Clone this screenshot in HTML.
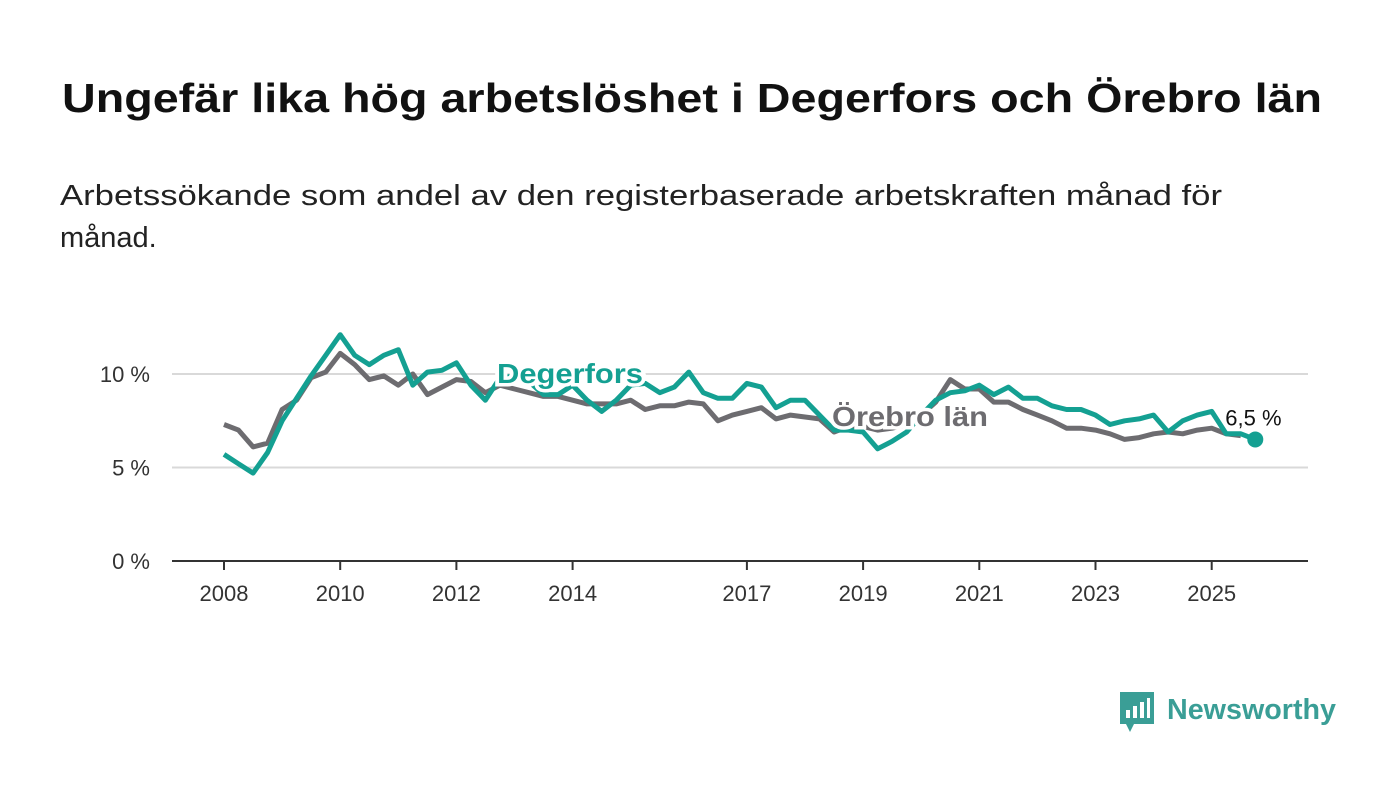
<!DOCTYPE html>
<html><head><meta charset="utf-8">
<style>
html,body{margin:0;padding:0;background:#fff;}
svg{display:block;font-family:"Liberation Sans",sans-serif;}
</style></head>
<body>
<svg width="1400" height="794" viewBox="0 0 1400 794">
<text x="62" y="112" font-size="41" font-weight="bold" fill="#111" textLength="1260" lengthAdjust="spacingAndGlyphs">Ungefär lika hög arbetslöshet i Degerfors och Örebro län</text>
<text x="60" y="205" font-size="29" fill="#222" textLength="1162" lengthAdjust="spacingAndGlyphs">Arbetssökande som andel av den registerbaserade arbetskraften månad för</text>
<text x="60" y="247" font-size="29" fill="#222">månad.</text>
<g id="plot"></g>
<g>
<path d="M1120 692 h34 v32 h-20 l-4 8 l-4 -8 h-6 z" fill="#3a9e96"/>
<rect x="1126" y="710" width="4" height="8" fill="#fff"/><rect x="1133" y="706" width="4" height="12" fill="#fff"/><rect x="1140" y="702" width="4" height="16" fill="#fff"/><rect x="1147" y="698" width="3" height="20" fill="#fff"/>
<text x="1167" y="719" font-size="29" font-weight="bold" fill="#3a9e96" textLength="169" lengthAdjust="spacingAndGlyphs">Newsworthy</text>
</g>
</svg>
<script>
const yTicks=[0,5,10];
const yTickLabels=["0 %","5 %","10 %"];
const xTicks=[2008,2010,2012,2014,2017,2019,2021,2023,2025];
const startYear=2008;
const step=0.25;
const degerfors=[5.7,5.2,4.7,5.8,7.5,8.7,9.9,11.0,12.1,11.0,10.5,11.0,11.3,9.4,10.1,10.2,10.6,9.4,8.6,9.8,9.9,9.6,8.9,8.9,9.4,8.6,8.0,8.6,9.4,9.5,9.0,9.3,10.1,9.0,8.7,8.7,9.5,9.3,8.2,8.6,8.6,7.8,7.0,7.0,6.9,6.0,6.4,6.9,7.8,8.6,9.0,9.1,9.4,8.9,9.3,8.7,8.7,8.3,8.1,8.1,7.8,7.3,7.5,7.6,7.8,6.9,7.5,7.8,8.0,6.8,6.8,6.5];
const orebro=[7.3,7.0,6.1,6.3,8.1,8.6,9.8,10.1,11.1,10.5,9.7,9.9,9.4,10.0,8.9,9.3,9.7,9.6,9.0,9.4,9.2,9.0,8.8,8.8,8.6,8.4,8.4,8.4,8.6,8.1,8.3,8.3,8.5,8.4,7.5,7.8,8.0,8.2,7.6,7.8,7.7,7.6,6.9,7.2,7.2,7.0,7.1,7.3,7.8,8.5,9.7,9.2,9.2,8.5,8.5,8.1,7.8,7.5,7.1,7.1,7.0,6.8,6.5,6.6,6.8,6.9,6.8,7.0,7.1,6.8,6.7];
const NS="http://www.w3.org/2000/svg";
const x=yr=>224+(yr-2008)*58.1;
const y=v=>561-v*18.7;
const g=document.getElementById('plot');
function mk(t,a){const e=document.createElementNS(NS,t);for(const k in a)e.setAttribute(k,a[k]);g.appendChild(e);return e;}
yTicks.forEach((v,i)=>{
 if(v>0){const l=mk('line',{x1:172,x2:1308,y1:y(v),y2:y(v),stroke:'#d9d9d9','stroke-width':2});
 
 }
 const t=mk('text',{x:150,y:y(v)+8,'font-size':22,fill:'#333','text-anchor':'end'});t.textContent=yTickLabels[i];
 
 
});
xTicks.forEach(yr=>{
 const l=mk('line',{x1:x(yr),x2:x(yr),y1:561,y2:570,stroke:'#333','stroke-width':2});
 
 
 const t=mk('text',{x:x(yr),y:601,'font-size':22,fill:'#333','text-anchor':'middle'});t.textContent=yr;
 
 
});
const ax=mk('line',{x1:172,x2:1308,y1:561,y2:561,stroke:'#333','stroke-width':2});


function pts(arr){return arr.map((v,i)=>x(startYear+i*step).toFixed(1)+','+y(v).toFixed(1)).join(' ');}
const po=mk('polyline',{points:pts(orebro),fill:'none',stroke:'#6d6c70','stroke-width':5,'stroke-linejoin':'round'});


const pd=mk('polyline',{points:pts(degerfors),fill:'none',stroke:'#14a092','stroke-width':5,'stroke-linejoin':'round'});


const li=degerfors.length-1;
const dot=mk('circle',{cx:x(startYear+li*step),cy:y(degerfors[li]),r:8,fill:'#14a092'});


const lv=mk('text',{x:x(startYear+li*step)-30,y:y(degerfors[li])-14,'font-size':22,fill:'#111'});lv.textContent=(degerfors[li].toFixed(1).replace('.',','))+' %';


const l1=mk('text',{x:497,y:383,'font-size':28,'font-weight':'bold',fill:'#14a092',stroke:'#fff','stroke-width':7,'paint-order':'stroke',textLength:146,lengthAdjust:'spacingAndGlyphs'});l1.textContent='Degerfors';


const l2=mk('text',{x:832,y:426,'font-size':28,'font-weight':'bold',fill:'#6d6c70',stroke:'#fff','stroke-width':7,'paint-order':'stroke',textLength:156,lengthAdjust:'spacingAndGlyphs'});l2.textContent='Örebro län';


</script>
</body></html>
